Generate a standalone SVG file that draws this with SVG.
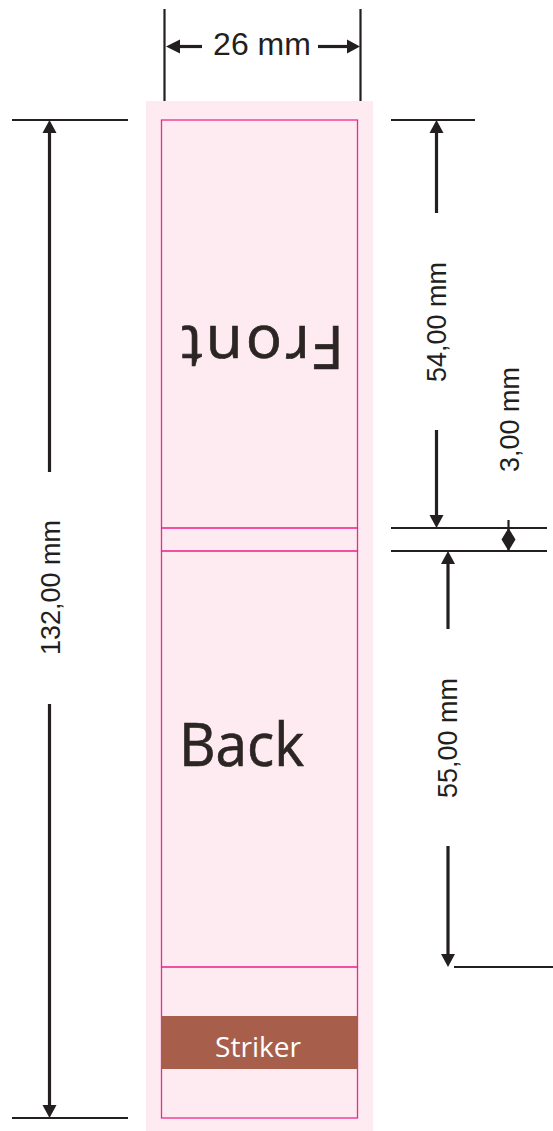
<svg xmlns="http://www.w3.org/2000/svg" width="553" height="1131" viewBox="0 0 553 1131">
<style>
.dim{stroke:#231f20;stroke-width:2.200;fill:none}
.shaft{stroke:#231f20;stroke-width:3.200;fill:none}
.head{fill:#231f20}
.pink{stroke:#ec2a8b;stroke-width:1.300;fill:none}
.pinkb{stroke:#ed1e85;stroke-width:1.500;fill:none}
.sans{font-family:"Liberation Sans",Arial,sans-serif;fill:#231f20;font-size:27px}
.hum{font-family:"Open Sans","Noto Sans",sans-serif;fill:#2b2523;stroke:#2b2523;stroke-width:.7}
</style>
<rect width="553" height="1131" fill="#ffffff"/>
<g id="sheet">
<rect x="146" y="101" width="227" height="1030" fill="#feeaf1"/>
<rect class="pink" x="161.500" y="120" width="196" height="998"/>
<line class="pinkb" x1="161" y1="528" x2="358" y2="528"/>
<line class="pinkb" x1="161" y1="551" x2="358" y2="551"/>
<line class="pinkb" x1="161" y1="967" x2="358" y2="967"/>
</g>
<g id="striker">
<rect x="161.500" y="1016" width="196" height="53" fill="#a75f4c"/>
<text x="258" y="1057" text-anchor="middle" font-size="27" style="font-family:'Open Sans','Noto Sans',sans-serif;fill:#ffffff" textLength="86" lengthAdjust="spacingAndGlyphs">Striker</text>
</g>
<g id="front">
<text class="hum" transform="translate(344,326) rotate(180)" font-size="60" textLength="163">Front</text>
</g>
<g id="back">
<text class="hum" x="179" y="766" font-size="61" textLength="125" lengthAdjust="spacingAndGlyphs">Back</text>
</g>
<g id="connectors">
<line class="dim" x1="164.500" y1="9" x2="164.500" y2="101"/>
<line class="dim" x1="360.500" y1="9" x2="360.500" y2="101"/>
<line class="shaft" x1="175" y1="46.500" x2="202" y2="46.500"/>
<line class="shaft" x1="318" y1="46.500" x2="350" y2="46.500"/>
<polygon class="head" points="166,46.500 180,39.500 180,53.500"/>
<polygon class="head" points="360,46.500 347,39.500 347,53.500"/>

<line class="dim" x1="12" y1="120" x2="128" y2="120"/>
<line class="dim" x1="12" y1="1118" x2="128" y2="1118"/>
<line class="shaft" x1="49.500" y1="130" x2="49.500" y2="472"/>
<line class="shaft" x1="49.500" y1="704" x2="49.500" y2="1108"/>
<polygon class="head" points="49.500,120 42.500,133 56.500,133"/>
<polygon class="head" points="49.500,1118 42.500,1105 56.500,1105"/>

<line class="dim" x1="391" y1="120" x2="475" y2="120"/>
<line class="shaft" x1="436.500" y1="130" x2="436.500" y2="213"/>
<polygon class="head" points="436.500,120 429.500,133 443.500,133"/>
<line class="shaft" x1="436.500" y1="430" x2="436.500" y2="518"/>
<polygon class="head" points="436.500,528 429.500,515 443.500,515"/>

<line class="dim" x1="391" y1="528" x2="547" y2="528"/>
<line class="dim" x1="391" y1="551" x2="547" y2="551"/>
<line class="shaft" x1="448" y1="561" x2="448" y2="629"/>
<polygon class="head" points="448,551 441,564 455,564"/>
<line class="shaft" x1="448" y1="846" x2="448" y2="957"/>
<polygon class="head" points="448,967 441,954 455,954"/>
<line class="dim" x1="454" y1="967" x2="553" y2="967"/>

<line class="dim" x1="508.500" y1="520" x2="508.500" y2="551"/>
<polygon class="head" points="508.500,528 515.500,539.500 508.500,551 501.500,539.500"/>
</g>
<g id="labels">
<text class="sans" x="262" y="55" text-anchor="middle" style="font-size:32px">26 mm</text>
<text class="sans" transform="translate(59.500,655) rotate(-90)">132,00 mm</text>
<text class="sans" transform="translate(445.500,382) rotate(-90)">54,00 mm</text>
<text class="sans" transform="translate(518.500,472) rotate(-90)">3,00 mm</text>
<text class="sans" transform="translate(456.500,798) rotate(-90)">55,00 mm</text>
</g>
</svg>
